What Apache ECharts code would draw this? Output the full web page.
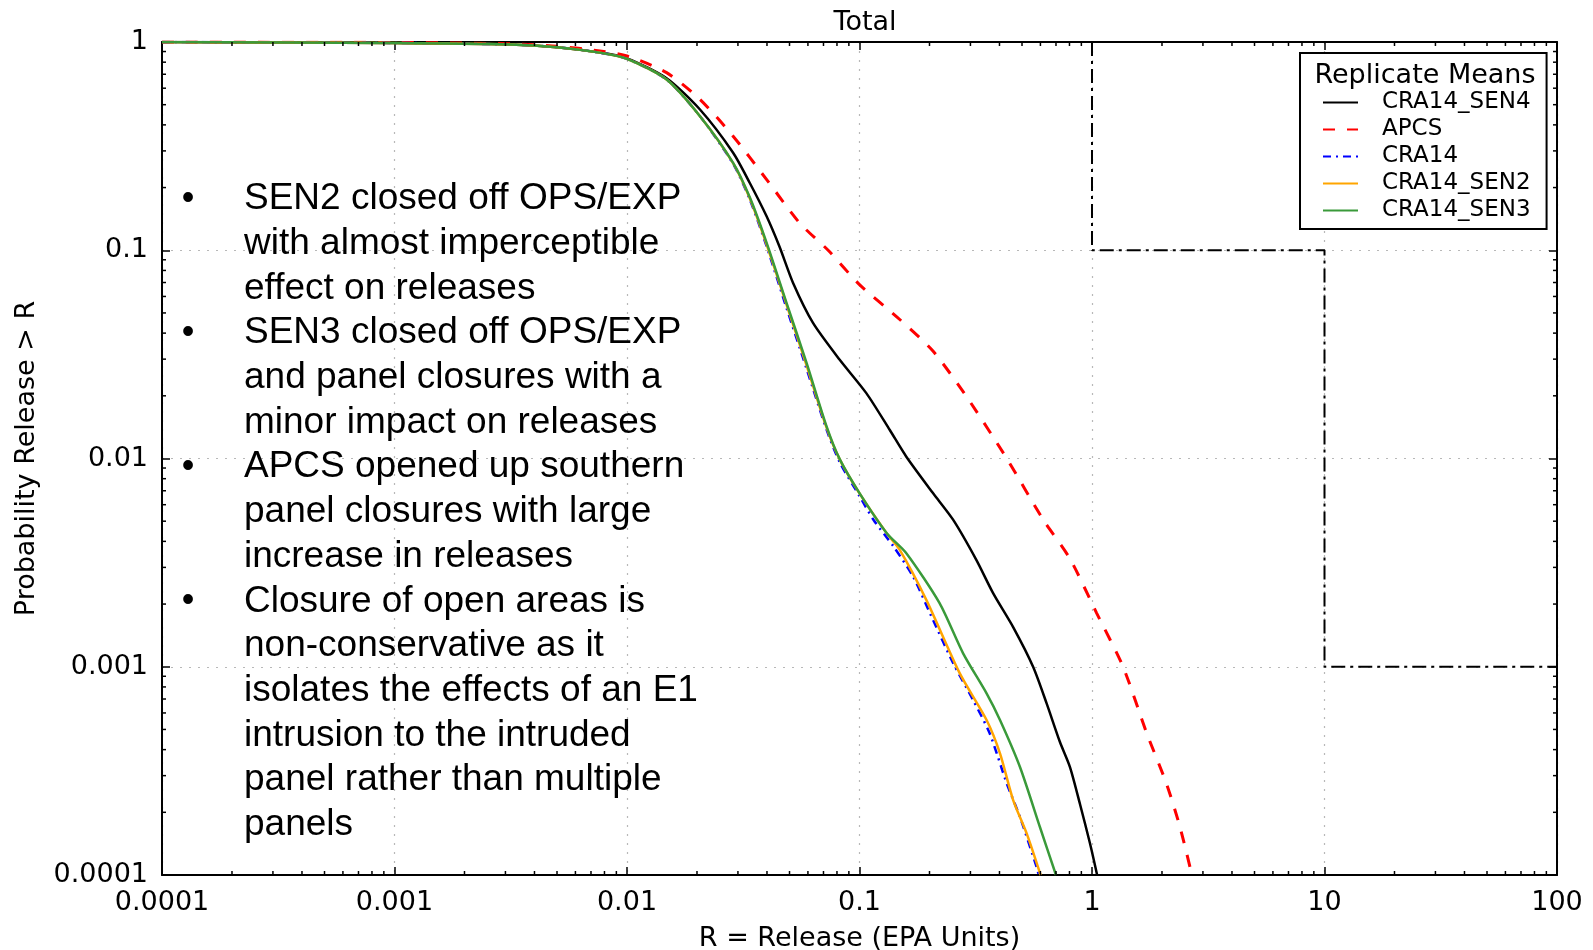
<!DOCTYPE html>
<html>
<head>
<meta charset="utf-8">
<script src="https://cdn.jsdelivr.net/npm/echarts@6/dist/echarts.min.js"></script>
<style>
html,body{margin:0;padding:0;background:#fff;}
#chart{width:1593px;height:950px;}
</style>
</head>
<body>
<div id="chart"></div>
<script>
// ---- tick labels ----
const xTickLabels = ['0.0001','0.001','0.01','0.1','1','10','100'];
const yTickLabels = ['0.0001','0.001','0.01','0.1','1'];

// ---- series: release R (EPA units) and probability release > R ----
const releaseSEN4 = [0.0001, 0.001, 0.00316, 0.005, 0.00764, 0.01, 0.0148, 0.0206, 0.0286, 0.0337, 0.0398, 0.0453, 0.0518, 0.0631, 0.0822, 0.107, 0.135, 0.159, 0.207, 0.253, 0.318, 0.376, 0.458, 0.558, 0.638, 0.728, 0.804, 0.887, 0.98, 1.052];
const probSEN4    = [1, 0.99, 0.973, 0.944, 0.89, 0.835, 0.67, 0.474, 0.294, 0.211, 0.146, 0.104, 0.0697, 0.0448, 0.0298, 0.0206, 0.0137, 0.0102, 0.00682, 0.00507, 0.00326, 0.00225, 0.00155, 0.001, 0.000667, 0.000435, 0.00033, 0.00022, 0.000142, 0.0001];

const releaseAPCS = [0.0001, 0.001, 0.00316, 0.005, 0.00764, 0.01, 0.0148, 0.0206, 0.0286, 0.0398, 0.0553, 0.0733, 0.1, 0.149, 0.207, 0.288, 0.43, 0.617, 0.804, 1.047, 1.36, 1.72, 2.09, 2.39, 2.69];
const probAPCS    = [1, 0.995, 0.98, 0.955, 0.906, 0.857, 0.713, 0.53, 0.353, 0.219, 0.135, 0.1, 0.0684, 0.0465, 0.0328, 0.0199, 0.01, 0.00508, 0.0033, 0.00181, 0.001, 0.000479, 0.000275, 0.00017, 0.0001];

const releaseCRA14 = [0.0001, 0.001, 0.00316, 0.005, 0.00764, 0.01, 0.0148, 0.0206, 0.0286, 0.0337, 0.0398, 0.0485, 0.0592, 0.0721, 0.0822, 0.1, 0.115, 0.14, 0.17, 0.207, 0.253, 0.308, 0.363, 0.43, 0.49, 0.578, 0.59];
const probCRA14    = [1, 0.99, 0.973, 0.944, 0.889, 0.83, 0.66, 0.44, 0.26, 0.176, 0.105, 0.053, 0.027, 0.0138, 0.0096, 0.0066, 0.00507, 0.00378, 0.00271, 0.00168, 0.00104, 0.000692, 0.000479, 0.000275, 0.00019, 0.000109, 0.0001];

const releaseSEN2 = [0.0001, 0.001, 0.00316, 0.005, 0.00764, 0.01, 0.0148, 0.0206, 0.0286, 0.0337, 0.0398, 0.0485, 0.0592, 0.0721, 0.0822, 0.1, 0.131, 0.149, 0.194, 0.27, 0.352, 0.402, 0.458, 0.524, 0.601];
const probSEN2    = [1, 0.99, 0.973, 0.944, 0.889, 0.83, 0.66, 0.44, 0.262, 0.178, 0.107, 0.055, 0.028, 0.0141, 0.0099, 0.0068, 0.00437, 0.00364, 0.00209, 0.000929, 0.000555, 0.000384, 0.000229, 0.000158, 0.0001];

const releaseSEN3 = [0.0001, 0.001, 0.00316, 0.005, 0.00764, 0.01, 0.0148, 0.0206, 0.0286, 0.0337, 0.0398, 0.0485, 0.0592, 0.0721, 0.0822, 0.1, 0.131, 0.159, 0.221, 0.279, 0.352, 0.402, 0.49, 0.597, 0.7];
const probSEN3    = [1, 0.99, 0.973, 0.944, 0.889, 0.83, 0.66, 0.44, 0.263, 0.18, 0.109, 0.056, 0.0288, 0.0143, 0.00993, 0.00682, 0.00438, 0.00351, 0.00202, 0.00116, 0.000745, 0.000555, 0.00033, 0.00017, 0.0001];

// ---- limit (step) line ----
const limitX = [1, 1, 10, 10, 100];
const limitY = [1, 0.1, 0.1, 0.001, 0.001];

const seriesNames = ['CRA14_SEN4', 'APCS', 'CRA14', 'CRA14_SEN2', 'CRA14_SEN3'];

// ---- annotation text ----
const noteLines = [
  'SEN2 closed off OPS/EXP',
  'with almost imperceptible',
  'effect on releases',
  'SEN3 closed off OPS/EXP',
  'and panel closures with a',
  'minor impact on releases',
  'APCS opened up southern',
  'panel closures with large',
  'increase in releases',
  'Closure of open areas is',
  'non-conservative as it',
  'isolates the effects of an E1',
  'intrusion to the intruded',
  'panel rather than multiple',
  'panels'
];
const bulletRows = [0, 3, 6, 9];

function zip(xs, ys){ return xs.map((x,i)=>[x, ys[i]]); }

// minor tick positions (2..9 x 10^k)
const xMinor = [], yMinor = [];
for (let k=-4; k<=1; k++) for (let m=2; m<=9; m++) xMinor.push([m*Math.pow(10,k), 0.0001]);
for (let k=-4; k<=-1; k++) for (let m=2; m<=9; m++) yMinor.push([0.0001, m*Math.pow(10,k)]);

const AXFONT = 'DejaVu Sans';
const LH = 44.7;
const TOP0 = 199;
const chart = echarts.init(document.getElementById('chart'), null, {renderer:'canvas'});

const lineBase = {type:'line', showSymbol:false, symbol:'none', smooth:0.25, animation:false, z:3};

function minorRender(isX){
  return function(params, api){
    const v = [api.value(0), api.value(1)];
    const sty = {stroke:'#000', lineWidth:1.5};
    if (isX){
      const b = api.coord([v[0], 0.0001]);
      const t = api.coord([v[0], 1]);
      return {type:'group', children:[
        {type:'line', shape:{x1:b[0], y1:b[1], x2:b[0], y2:b[1]-4}, style:sty},
        {type:'line', shape:{x1:t[0], y1:t[1], x2:t[0], y2:t[1]+4}, style:sty}
      ]};
    } else {
      const l = api.coord([0.0001, v[1]]);
      const r = api.coord([100, v[1]]);
      return {type:'group', children:[
        {type:'line', shape:{x1:l[0], y1:l[1], x2:l[0]+4, y2:l[1]}, style:sty},
        {type:'line', shape:{x1:r[0], y1:r[1], x2:r[0]-4, y2:r[1]}, style:sty}
      ]};
    }
  };
}

const graphics = [
  {type:'text', left:244, top:TOP0 - LH/2, z:100, style:{text:noteLines.join('\n'), fontFamily:'Liberation Sans', fontSize:37, lineHeight:LH, fill:'#000'}},
  {type:'text', x:1425, y:76, z:100, style:{text:'Replicate Means', fontFamily:AXFONT, fontSize:27, fill:'#000', align:'center', verticalAlign:'middle'}}
];
bulletRows.forEach(r => graphics.push({type:'text', x:188, y:TOP0 + r*LH, z:100, style:{text:'•', fontFamily:'Liberation Sans', fontSize:36, fill:'#000', align:'center', verticalAlign:'middle'}}));

const option = {
  animation:false,
  backgroundColor:'#fff',
  title:{text:'Total', left:860, top:4, textAlign:'center', textStyle:{fontFamily:AXFONT, fontSize:27, fontWeight:'normal', color:'#000'}},
  grid:{left:162, top:42, right:36, bottom:75, containLabel:false, outerBoundsMode:'none'},
  legend:{
    data:seriesNames, orient:'vertical', left:1300, top:53,
    padding:[38, 16, 7, 22], itemGap:4, itemWidth:35, itemHeight:14,
    backgroundColor:'#fff', borderColor:'#000', borderWidth:2, borderRadius:0,
    selectedMode:false,
    itemStyle:{opacity:0, color:'rgba(0,0,0,0)', borderWidth:0},
    textStyle:{fontFamily:AXFONT, fontSize:23, color:'#000', lineHeight:22, padding:[0,0,0,19]}
  },
  xAxis:[
    {type:'log', logBase:10, min:0.0001, max:100, interval:1, splitNumber:6,
     name:'R = Release (EPA Units)', nameLocation:'middle', nameGap:50,
     nameTextStyle:{fontFamily:AXFONT, fontSize:27, color:'#000'},
     axisLine:{show:true, lineStyle:{color:'#000', width:2}},
     axisTick:{show:true, inside:true, length:8, lineStyle:{color:'#000', width:1.5}},
     axisLabel:{fontFamily:AXFONT, fontSize:27, color:'#000', margin:14,
       formatter:v => xTickLabels[Math.round(Math.log10(v)) + 4]},
     splitLine:{show:true, lineStyle:{color:'#b8b8b8', width:1.2, type:[2,7]}}
    },
    {type:'log', logBase:10, min:0.0001, max:100, interval:1, splitNumber:6, position:'top',
     axisLine:{show:true, lineStyle:{color:'#000', width:2}},
     axisTick:{show:true, inside:true, length:8, lineStyle:{color:'#000', width:1.5}},
     axisLabel:{show:false}, splitLine:{show:false}
    }
  ],
  yAxis:[
    {type:'log', logBase:10, min:0.0001, max:1, interval:1, splitNumber:4,
     name:'Probability Release > R', nameLocation:'middle', nameGap:122,
     nameTextStyle:{fontFamily:AXFONT, fontSize:27, color:'#000'},
     axisLine:{show:true, lineStyle:{color:'#000', width:2}},
     axisTick:{show:true, inside:true, length:8, lineStyle:{color:'#000', width:1.5}},
     axisLabel:{fontFamily:AXFONT, fontSize:27, color:'#000', margin:14,
       formatter:v => yTickLabels[Math.round(Math.log10(v)) + 4]},
     splitLine:{show:true, lineStyle:{color:'#b8b8b8', width:1.2, type:[2,7]}}
    },
    {type:'log', logBase:10, min:0.0001, max:1, interval:1, splitNumber:4, position:'right',
     axisLine:{show:true, lineStyle:{color:'#000', width:2}},
     axisTick:{show:true, inside:true, length:8, lineStyle:{color:'#000', width:1.5}},
     axisLabel:{show:false}, splitLine:{show:false}
    }
  ],
  graphic:graphics,
  series:[
    {type:'line', name:'limit', data:zip(limitX, limitY), showSymbol:false, symbol:'none', z:2,
     lineStyle:{color:'#000', width:2, type:[14,5,3,5]}},
    Object.assign({}, lineBase, {name:'CRA14_SEN4', data:zip(releaseSEN4, probSEN4), color:'#000',
      lineStyle:{color:'#000', width:2.5, type:'solid'}}),
    Object.assign({}, lineBase, {name:'APCS', data:zip(releaseAPCS, probAPCS), color:'#ff0000',
      lineStyle:{color:'#ff0000', width:3, type:[12,12]}}),
    Object.assign({}, lineBase, {name:'CRA14', data:zip(releaseCRA14, probCRA14), color:'#0000ff',
      lineStyle:{color:'#0000ff', width:2.5, type:[8,5,2,5]}}),
    Object.assign({}, lineBase, {name:'CRA14_SEN2', data:zip(releaseSEN2, probSEN2), color:'#ffa500',
      lineStyle:{color:'#ffa500', width:2.5, type:'solid'}}),
    Object.assign({}, lineBase, {name:'CRA14_SEN3', data:zip(releaseSEN3, probSEN3), color:'#3a9a3a',
      lineStyle:{color:'#3a9a3a', width:2.5, type:'solid'}}),
    {type:'custom', name:'xMinor', data:xMinor, renderItem:minorRender(true), silent:true, z:5},
    {type:'custom', name:'yMinor', data:yMinor, renderItem:minorRender(false), silent:true, z:5}
  ]
};
chart.setOption(option);
</script>
</body>
</html>
